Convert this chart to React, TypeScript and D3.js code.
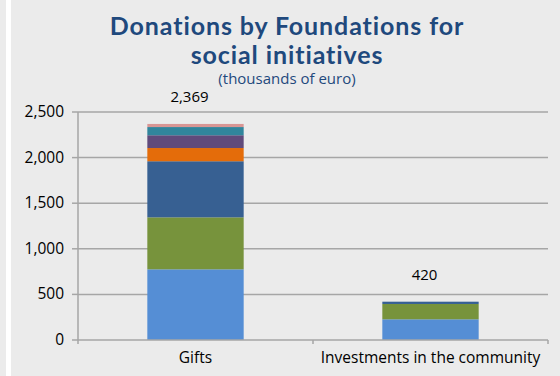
import React from "react";
import * as d3 from "d3";

const categories = ["Gifts", "Investments in the community"];
const seriesNames = ["s1", "s2", "s3", "s4", "s5", "s6", "s7"];
const s1 = [775, 227];
const s2 = [570, 168];
const s3 = [615, 25];
const s4 = [145, 0];
const s5 = [140, 0];
const s6 = [90, 0];
const s7 = [34, 0];
const totals = [2369, 420];
const yTicks = [0, 500, 1000, 1500, 2000, 2500];
const colors = ["#558ed5", "#77933c", "#376092", "#e46c0a", "#604a7b", "#31859c", "#d99694"];

export default function App() {
  const W = 560, H = 376;
  const left = 78, right = 548, top = 112, bottom = 340;
  const x = d3.scaleBand().domain(categories).range([left, right]).paddingInner(0.59).paddingOuter(0.295);
  const y = d3.scaleLinear().domain([0, 2500]).range([bottom, top]);
  const seriesData = [s1, s2, s3, s4, s5, s6, s7];
  const rows = categories.map((c, i) => {
    const r: any = { cat: c };
    seriesNames.forEach((n, k) => (r[n] = seriesData[k][i]));
    return r;
  });
  const stacked = d3.stack().keys(seriesNames)(rows);
  const fmt = d3.format(",");
  const font = "'Open Sans', 'DejaVu Sans', sans-serif";
  const band = (right - left) / categories.length;
  const titleFont = "Lato, 'Open Sans', sans-serif";
  return (
    <svg width={W} height={H} style={{ position: "absolute", left: 0, top: 0 }} fontFamily={font}>
      <rect x={0} y={0} width={W} height={H} fill="#ebebeb" />
      <rect x={6} y={0} width={5} height={H} fill="#ffffff" />
      <text x={287} y={35} textAnchor="middle" fontSize={25} fontWeight="bold" fill="#1f497d" fontFamily={titleFont} letterSpacing={0.9}>
        Donations by Foundations for
      </text>
      <text x={287} y={64} textAnchor="middle" fontSize={25} fontWeight="bold" fill="#1f497d" fontFamily={titleFont} letterSpacing={0.9}>
        social initiatives
      </text>
      <text x={287} y={84} textAnchor="middle" fontSize={15} fill="#1f497d">
        (thousands of euro)
      </text>
      {yTicks.map((t) => (
        <g key={t}>
          {t > 0 && <line x1={left} x2={right} y1={y(t)} y2={y(t)} stroke="#a6a6a6" strokeWidth={1.5} />}
          <line x1={left - 6} x2={left} y1={y(t)} y2={y(t)} stroke="#a6a6a6" strokeWidth={1.5} />
          <text x={left - 14} y={y(t) + 5} textAnchor="end" fontSize={15.5} fill="#000">
            {fmt(t)}
          </text>
        </g>
      ))}
      {stacked.map((s, k) => (
        <g key={k} fill={colors[k]}>
          {s.map((d, i) =>
            d[1] - d[0] > 0 ? (
              <rect key={i} x={x(categories[i])} width={x.bandwidth()} y={y(d[1])} height={y(d[0]) - y(d[1])} />
            ) : null
          )}
        </g>
      ))}
      <line x1={left} x2={left} y1={top} y2={bottom + 4} stroke="#a6a6a6" strokeWidth={1.5} />
      <line x1={left} x2={right} y1={bottom} y2={bottom} stroke="#a6a6a6" strokeWidth={1.5} />
      {[1, 2].map((i) => (
        <line key={i} x1={left + band * i} x2={left + band * i} y1={bottom} y2={bottom + 4} stroke="#a6a6a6" strokeWidth={1.5} />
      ))}
      {categories.map((c) => (
        <text key={c} x={(x(c) as number) + x.bandwidth() / 2} y={363} textAnchor="middle" fontSize={15.5} fill="#000">
          {c}
        </text>
      ))}
      {categories.map((c, i) => (
        <text key={c + "t"} x={(x(c) as number) + x.bandwidth() / 2 - 6} y={y(totals[i]) - 22} textAnchor="middle" fontSize={15} fill="#000">
          {fmt(totals[i])}
        </text>
      ))}
    </svg>
  );
}
